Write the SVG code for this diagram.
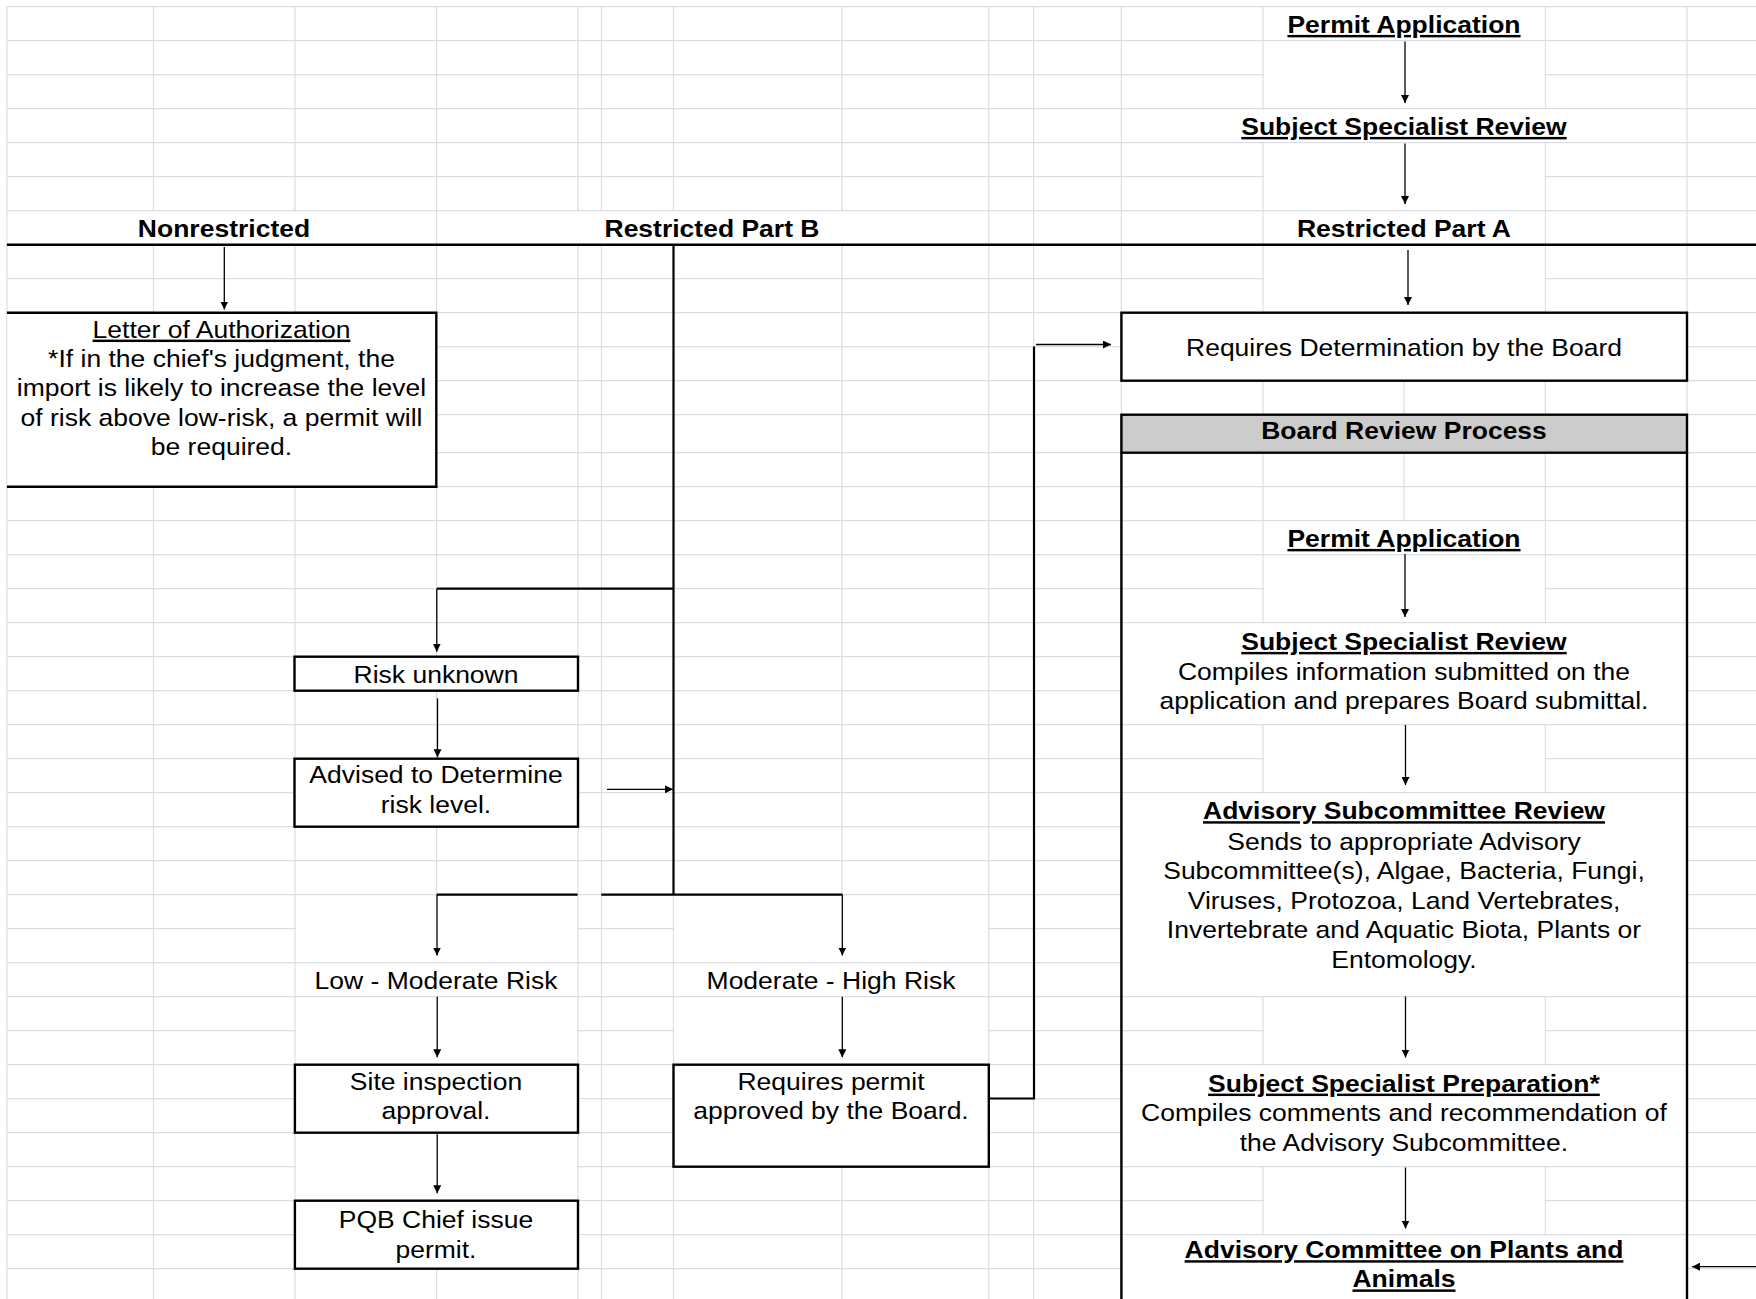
<svg xmlns="http://www.w3.org/2000/svg" width="1756" height="1299" viewBox="0 0 1756 1299">
<style>
.grid{fill:none;stroke:#dcdde2;stroke-width:1.2}
.m{fill:#fff;stroke:none}
.box{fill:#fff;stroke:#000;stroke-width:2.4}
.edge{fill:none;stroke:#000;stroke-width:2.4}
.hdr{fill:#cccccc;stroke:#000;stroke-width:2.4}
.c2{fill:none;stroke:#000;stroke-width:2.2}
.a{fill:none;stroke:#000;stroke-width:1.3;marker-end:url(#ah)}
.t{font-family:"Liberation Sans",Arial,Helvetica,sans-serif;font-size:24.4px;text-anchor:middle;fill:#000;transform-box:fill-box;transform-origin:center;transform:scaleX(1.086)}
.b{font-weight:bold}
.u{text-decoration:underline}
</style>
<defs>
<marker id="ah" viewBox="0 0 8 8" refX="8" refY="4" markerWidth="8" markerHeight="8" markerUnits="userSpaceOnUse" orient="auto"><path d="M0,0L8,4L0,8z" fill="#000"/></marker>
</defs>
<rect width="1756" height="1299" fill="#fff"/>
<g id="grid">
<path class="grid" d="M6.9 6.7V1299M153.5 6.7V1299M295 6.7V1299M436.5 6.7V1299M578 6.7V1299M601.5 6.7V1299M673.5 6.7V1299M842 6.7V1299M988.8 6.7V1299M1033.6 6.7V1299M1121.4 6.7V1299M1263 6.7V1299M1404 6.7V1299M1545.4 6.7V1299M1687 6.7V1299
M6.9 6.7H1756M6.9 40.7H1756M6.9 74.7H1756M6.9 108.7H1756M6.9 142.7H1756M6.9 176.7H1756M6.9 210.7H1756M6.9 244.7H1756M6.9 278.7H1756M6.9 312.7H1756M6.9 346.7H1756M6.9 380.7H1756M6.9 414.7H1756M6.9 452.7H1756M6.9 486.7H1756M6.9 520.7H1756M6.9 554.7H1756M6.9 588.7H1756M6.9 622.7H1756M6.9 656.7H1756M6.9 690.7H1756M6.9 724.7H1756M6.9 758.7H1756M6.9 792.7H1756M6.9 826.7H1756M6.9 860.7H1756M6.9 894.7H1756M6.9 928.7H1756M6.9 962.7H1756M6.9 996.7H1756M6.9 1030.7H1756M6.9 1064.7H1756M6.9 1098.7H1756M6.9 1132.7H1756M6.9 1166.7H1756M6.9 1200.7H1756M6.9 1234.7H1756M6.9 1268.7H1756"/>
<rect class="m" x="1263.9" y="7.6" width="280.6" height="32.2"/>
<rect class="m" x="1263.9" y="41.6" width="280.6" height="66.2"/>
<rect class="m" x="1122.3" y="109.6" width="563.8" height="32.2"/>
<rect class="m" x="1263.9" y="143.6" width="280.6" height="66.2"/>
<rect class="m" x="7.8" y="211.6" width="427.8" height="32.2"/>
<rect class="m" x="437.4" y="211.6" width="550.5" height="32.2"/>
<rect class="m" x="1263.9" y="211.6" width="280.6" height="32.2"/>
<rect class="m" x="1263.9" y="245.6" width="280.6" height="66.2"/>
<rect class="m" x="1263.9" y="521.6" width="280.6" height="32.2"/>
<rect class="m" x="1263.9" y="555.6" width="280.6" height="66.2"/>
<rect class="m" x="1122.3" y="623.6" width="563.8" height="100.2"/>
<rect class="m" x="1263.9" y="725.6" width="280.6" height="66.2"/>
<rect class="m" x="1122.3" y="793.6" width="563.8" height="202.2"/>
<rect class="m" x="1263.9" y="997.6" width="280.6" height="66.2"/>
<rect class="m" x="1122.3" y="1065.6" width="563.8" height="100.2"/>
<rect class="m" x="1263.9" y="1167.6" width="280.6" height="66.2"/>
<rect class="m" x="1122.3" y="1235.6" width="563.8" height="64"/>
<rect class="m" x="295.9" y="895.6" width="281.2" height="66.2"/>
<rect class="m" x="674.4" y="895.6" width="313.5" height="66.2"/>
<rect class="m" x="295.9" y="963.6" width="281.2" height="32.2"/>
<rect class="m" x="674.4" y="963.6" width="313.5" height="32.2"/>
<rect class="m" x="295.9" y="997.6" width="281.2" height="66.2"/>
<rect class="m" x="674.4" y="997.6" width="313.5" height="66.2"/>
<rect class="m" x="295.9" y="1133.6" width="281.2" height="66.2"/>
</g>
<g id="divider">
<line x1="6.9" y1="244.7" x2="1756" y2="244.7" stroke="#000" stroke-width="2.5"/>
</g>
<g id="top-permit-application">
<text class="t b u" x="1404" y="33">Permit Application</text>
</g>
<g id="top-subject-specialist-review">
<text class="t b u" x="1404" y="135">Subject Specialist Review</text>
</g>
<g id="header-nonrestricted">
<text class="t b" x="224" y="237.5">Nonrestricted</text>
</g>
<g id="header-restricted-part-b">
<text class="t b" x="712" y="237.5">Restricted Part B</text>
</g>
<g id="header-restricted-part-a">
<text class="t b" x="1404" y="237.5">Restricted Part A</text>
</g>
<g id="letter-of-authorization">
<rect class="m" x="7.6" y="312.7" width="428.7" height="174"/>
<path class="edge" d="M6.9 312.7H436.3V486.7H6.9"/>
<text class="t" x="221.5" y="337.7"><tspan class="u">Letter of Authorization</tspan><tspan x="221.5" dy="29.3">*If in the chief's judgment, the</tspan><tspan x="221.5" dy="29.3">import is likely to increase the level</tspan><tspan x="221.5" dy="29.3">of risk above low-risk, a permit will</tspan><tspan x="221.5" dy="29.3">be required.</tspan></text>
</g>
<g id="requires-determination">
<rect class="box" x="1121.4" y="312.7" width="565.6" height="68"/>
<text class="t" x="1404" y="356">Requires Determination by the Board</text>
</g>
<g id="board-review-process">
<rect class="hdr" x="1121.4" y="414.7" width="565.6" height="38"/>
<path class="edge" d="M1121.4 452.7V1300M1687 452.7V1300"/>
<text class="t b" x="1404" y="439.5">Board Review Process</text>
</g>
<g id="board-permit-application">
<text class="t b u" x="1404" y="547">Permit Application</text>
</g>
<g id="board-subject-specialist-review">
<text class="t" x="1404" y="650"><tspan class="b u">Subject Specialist Review</tspan><tspan x="1404" dy="30">Compiles information submitted on the</tspan><tspan x="1404" dy="29.5">application and prepares Board submittal.</tspan></text>
</g>
<g id="advisory-subcommittee-review">
<text class="t" x="1404" y="819.3"><tspan class="b u">Advisory Subcommittee Review</tspan><tspan x="1404" dy="30.7">Sends to appropriate Advisory</tspan><tspan x="1404" dy="29.5">Subcommittee(s), Algae, Bacteria, Fungi,</tspan><tspan x="1404" dy="29.5">Viruses, Protozoa, Land Vertebrates,</tspan><tspan x="1404" dy="29.5">Invertebrate and Aquatic Biota, Plants or</tspan><tspan x="1404" dy="29.5">Entomology.</tspan></text>
</g>
<g id="subject-specialist-preparation">
<text class="t" x="1404" y="1091.7"><tspan class="b u">Subject Specialist Preparation*</tspan><tspan x="1404" dy="29.8">Compiles comments and recommendation of</tspan><tspan x="1404" dy="29.5">the Advisory Subcommittee.</tspan></text>
</g>
<g id="advisory-committee">
<text class="t b u" x="1404" y="1258.3"><tspan>Advisory Committee on Plants and</tspan><tspan x="1404" dy="29.2">Animals</tspan></text>
</g>
<g id="risk-unknown">
<rect class="box" x="294.5" y="656.7" width="283.5" height="34"/>
<text class="t" x="436" y="683">Risk unknown</text>
</g>
<g id="advised-to-determine">
<rect class="box" x="294.5" y="758.7" width="283.5" height="68"/>
<text class="t" x="436" y="783.3"><tspan>Advised to Determine</tspan><tspan x="436" dy="29.7">risk level.</tspan></text>
</g>
<g id="low-moderate-risk">
<text class="t" x="436" y="989">Low - Moderate Risk</text>
</g>
<g id="moderate-high-risk">
<text class="t" x="831" y="989">Moderate - High Risk</text>
</g>
<g id="site-inspection">
<rect class="box" x="294.9" y="1064.7" width="283.1" height="68"/>
<text class="t" x="436" y="1090"><tspan>Site inspection</tspan><tspan x="436" dy="29.5">approval.</tspan></text>
</g>
<g id="pqb-chief">
<rect class="box" x="294.9" y="1200.7" width="283.1" height="68"/>
<text class="t" x="436" y="1228.3"><tspan>PQB Chief issue</tspan><tspan x="436" dy="29.7">permit.</tspan></text>
</g>
<g id="requires-permit">
<rect class="box" x="673.5" y="1064.7" width="315.3" height="102"/>
<text class="t" x="831" y="1090"><tspan>Requires permit</tspan><tspan x="831" dy="29.5">approved by the Board.</tspan></text>
</g>
<g id="connectors">
<path class="c2" d="M673.5 245V894.7"/>
<path class="c2" d="M673.5 588.7H436.8"/>
<path class="c2" d="M436.8 894.7H577.6"/>
<path class="c2" d="M601.3 894.7H842.4"/>
<path class="c2" d="M988.8 1098.5H1034V346.5"/>
<path class="a" d="M1405 41.5V103"/>
<path class="a" d="M1405 143.5V204"/>
<path class="a" d="M1408 250V305"/>
<path class="a" d="M224.3 247V309.5"/>
<path class="a" d="M436.8 588.7V651.7"/>
<path class="a" d="M437.5 698.3V757.3"/>
<path class="a" d="M607 789.3H673"/>
<path class="a" d="M437 894.7V955.5"/>
<path class="a" d="M842.3 894.7V955.5"/>
<path class="a" d="M437.2 996.7V1057.3"/>
<path class="a" d="M842.3 996.7V1057.3"/>
<path class="a" d="M437.2 1134.3V1193.3"/>
<path class="a" d="M1036 344.5H1111"/>
<path class="a" d="M1405 554V617"/>
<path class="a" d="M1405.5 725V785"/>
<path class="a" d="M1405.5 996.5V1057.5"/>
<path class="a" d="M1405.5 1167.5V1228.5"/>
<path class="a" d="M1756 1266.7H1692"/>
</g>
</svg>
